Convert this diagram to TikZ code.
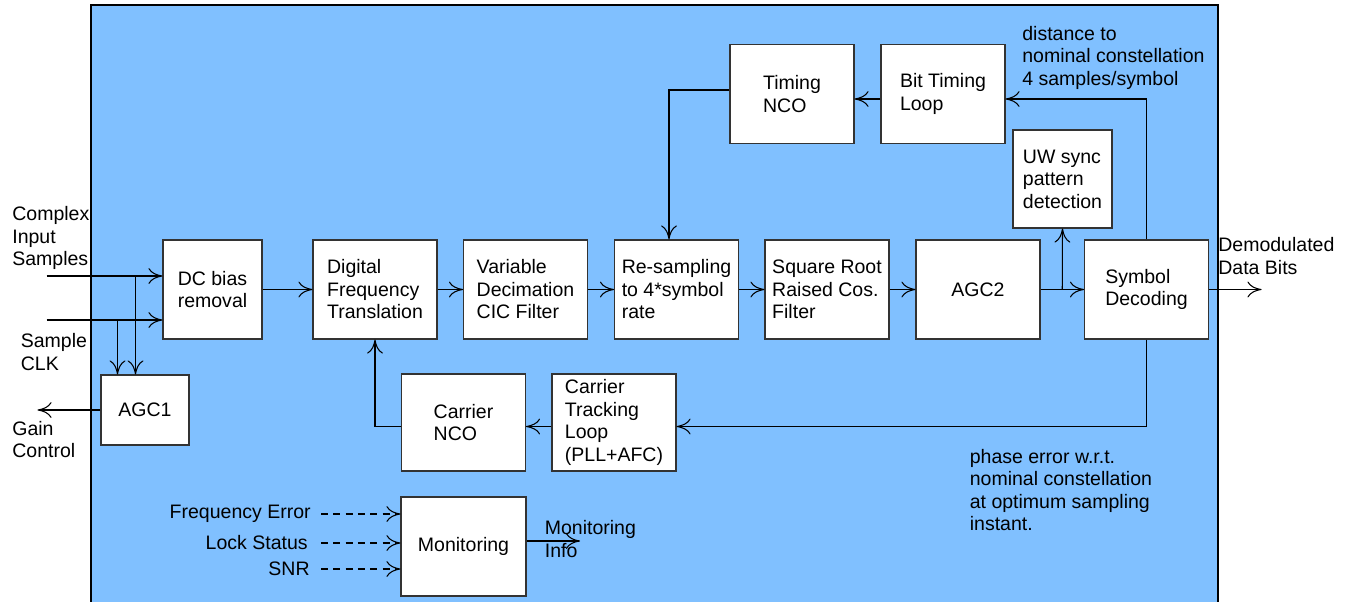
\documentclass[tikz,border=0pt]{standalone}
\usepackage{fontspec}
\setsansfont{Liberation Sans}
\usetikzlibrary{arrows.meta,positioning,calc}
\definecolor{panel}{HTML}{80C0FF}
\definecolor{block}{HTML}{FFFFFF}
\tikzset{box/.style={draw=black!80,line width=0.6pt,fill=block,align=left,inner sep=0pt,minimum width=2.48cm,minimum height=1.98cm,font=\sffamily\fontsize{11.1}{12.8}\selectfont},arrow/.style={-{Computer Modern Rightarrow[length=8pt,width=9pt]},line width=0.6pt},dasharrow/.style={arrow,dash pattern=on 4pt off 3pt},lab/.style={inner sep=0pt,align=left,font=\sffamily\fontsize{11.1}{12.8}\selectfont}}
\begin{document}
\begin{tikzpicture}
\useasboundingbox (0,0) rectangle (26.96,-12.04);
\fill[panel] (1.82,-0.1) rectangle (24.36,-12.04);
\draw[line width=0.6pt] (1.82,-12.04) -- (1.82,-0.1) -- (24.36,-0.1) -- (24.36,-12.04);
% main chain
\node[box,minimum width=1.98cm] (dc) at (4.25,-5.79) {DC bias\\removal};
\node[box] (dft) at (7.5,-5.79) {Digital\\Frequency\\Translation};
\node[box] (cic) at (10.51,-5.79) {Variable\\Decimation\\CIC Filter};
\node[box] (rs) at (13.53,-5.79) {Re-sampling\\to 4*symbol\\rate};
\node[box] (srrc) at (16.54,-5.79) {Square Root\\Raised Cos.\\Filter};
\node[box] (agc2) at (19.56,-5.79) {AGC2};
\node[box] (sd) at (22.93,-5.79) {Symbol\\Decoding};
% loops
\node[box,minimum width=1.98cm,minimum height=1.96cm] (uw) at (21.25,-3.58) {UW sync\\pattern\\detection};
\node[box] (btl) at (18.86,-1.88) {Bit Timing\\Loop};
\node[box] (tnco) at (15.84,-1.88) {Timing\\NCO};
\node[box,minimum width=1.76cm,minimum height=1.4cm] (agc1) at (2.9,-8.2) {AGC1};
\node[box,minimum height=1.94cm] (cnco) at (9.27,-8.45) {Carrier\\NCO};
\node[box,minimum height=1.94cm] (ctl) at (12.28,-8.45) {Carrier\\Tracking\\Loop\\(PLL+AFC)};
\node[box,minimum width=2.5cm] (mon) at (9.27,-10.93) {Monitoring};
% labels
\node[lab,anchor=west] (cplx) at (0.24,-4.76) {Complex\\Input\\Samples};
\node[lab,anchor=west] (clk) at (0.41,-7.04) {Sample\\CLK};
\node[lab,anchor=west] (gain) at (0.24,-8.79) {Gain\\Control};
\node[lab,anchor=west] (demod) at (24.36,-5.12) {Demodulated\\Data Bits};
\node[lab,anchor=west] (dist) at (20.44,-1.15) {distance to\\nominal constellation\\4 samples/symbol};
\node[lab,anchor=west] (phase) at (19.39,-9.8) {phase error w.r.t.\\nominal constellation\\at optimum sampling\\instant.};
\node[lab,anchor=east] (fe) at (6.22,-10.28) {Frequency Error};
\node[lab,anchor=east] (ls) at (6.16,-10.86) {Lock Status};
\node[lab,anchor=east] (snr) at (6.2,-11.38) {SNR};
\node[lab,anchor=west] (minfo) at (10.89,-10.78) {Monitoring\\Info};
\coordinate (in1) at (0.93,-5.52);\coordinate (in2) at (0.93,-6.4);
\coordinate (j1) at (2.71,-5.52);\coordinate (j2) at (2.35,-6.4);
\coordinate (gout) at (0.75,-8.2);\coordinate (dout) at (25.23,-5.79);
\coordinate (mout) at (11.6,-10.82);
\coordinate (j3) at ($(agc2.east)!0.5!(sd.west)$);
\draw[arrow](in1)--(in1-|dc.west);\draw[arrow](in2)--(in2-|dc.west);
\draw[arrow](j1)--(j1|-agc1.north);\draw[arrow](j2)--(j2|-agc1.north);
\draw[arrow](agc1.west)--(gout);
\draw[arrow](dc)--(dft);\draw[arrow](dft)--(cic);\draw[arrow](cic)--(rs);\draw[arrow](rs)--(srrc);\draw[arrow](srrc)--(agc2);\draw[arrow](agc2)--(sd);
\draw[arrow](j3)--(uw.south);\draw[arrow](sd.east)--(dout);
\draw[arrow](sd.north)|-([yshift=-0.1cm]btl.east);\draw[arrow]([yshift=-0.1cm]btl.west)--([yshift=-0.1cm]tnco.east);
\draw[arrow]([yshift=0.08cm]tnco.west)-|([xshift=-0.15cm]rs.north);
\draw[arrow](sd.south)|-([yshift=-0.08cm]ctl.east);\draw[arrow]([yshift=-0.08cm]ctl.west)--([yshift=-0.08cm]cnco.east);
\draw[arrow]([yshift=-0.08cm]cnco.west)-|(dft.south);
\draw[dasharrow,shorten <=0.2cm](fe.east)--(fe.east-|mon.west);\draw[dasharrow,shorten <=0.26cm](ls.east)--(ls.east-|mon.west);\draw[dasharrow,shorten <=0.22cm](snr.east)--(snr.east-|mon.west);
\draw[arrow](mon.east|-mout)--(mout);
\end{tikzpicture}
\end{document}
